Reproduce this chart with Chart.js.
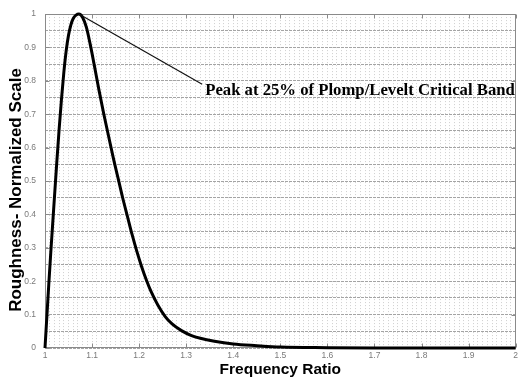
<!DOCTYPE html>
<html>
<head>
<meta charset="utf-8">
<script src="https://cdn.jsdelivr.net/npm/chart.js@4/dist/chart.umd.min.js"></script>
<style>
  html, body { margin: 0; padding: 0; background: #ffffff; }
  #wrap { width: 521px; height: 383px; }
</style>
</head>
<body>
<div id="wrap"><canvas id="c" width="521" height="383"></canvas></div>
<script>
// Roughness curve: frequency ratio vs. normalized roughness
const ratio = [1.000, 1.004, 1.008, 1.012, 1.016, 1.020, 1.025, 1.030, 1.035, 1.040,
               1.045, 1.050, 1.055, 1.060, 1.066, 1.072, 1.080, 1.088, 1.096, 1.105,
               1.115, 1.125, 1.135, 1.145, 1.155, 1.165, 1.175, 1.185, 1.195, 1.205,
               1.215, 1.225, 1.240, 1.255, 1.270, 1.290, 1.310, 1.330, 1.360, 1.400,
               1.450, 1.500, 1.600, 1.700, 2.000];
const roughness = [0.000, 0.095, 0.190, 0.280, 0.365, 0.450, 0.555, 0.655, 0.745, 0.825,
                   0.890, 0.937, 0.968, 0.987, 0.997, 1.000, 0.990, 0.960, 0.910, 0.845,
                   0.770, 0.700, 0.635, 0.570, 0.510, 0.450, 0.395, 0.340, 0.290, 0.245,
                   0.205, 0.170, 0.128, 0.095, 0.072, 0.052, 0.038, 0.029, 0.020, 0.012,
                   0.007, 0.003, 0.001, 0.000, 0.000];

const xTickLabels = ['1', '1.1', '1.2', '1.3', '1.4', '1.5', '1.6', '1.7', '1.8', '1.9', '2'];
const yTickLabels = ['0', '0.1', '0.2', '0.3', '0.4', '0.5', '0.6', '0.7', '0.8', '0.9', '1'];

const xTitle = 'Frequency Ratio';
const yTitle = 'Roughness- Normalized Scale';

// Callout from the peak of the curve
const peakPoint = { x: 1.072, y: 1.0 };
const calloutEnd = { x: 1.334, y: 0.79 };
const calloutText = 'Peak at 25% of Plomp/Levelt Critical Band';

const AXIS_GREY = '#8a8a8a';
const SANS = '"Liberation Sans", Arial, Helvetica, sans-serif';
const SERIF = '"Liberation Serif", "Times New Roman", Times, serif';

// Frame around the plot plus inward tick marks at the labelled positions
const frameTicks = {
  id: 'frameTicks',
  beforeDatasetsDraw(chart) {
    const { ctx, chartArea: a, scales: { x, y } } = chart;
    const L = Math.round(a.left) + 0.5, R = Math.round(a.right) - 0.5;
    const T = Math.round(a.top) + 0.5, B = Math.round(a.bottom) - 0.5;
    ctx.save();
    ctx.strokeStyle = AXIS_GREY;
    ctx.lineWidth = 1;
    ctx.setLineDash([]);
    ctx.strokeRect(L, T, R - L, B - T);
    ctx.beginPath();
    xTickLabels.forEach((lab) => {
      const px = Math.round(x.getPixelForValue(parseFloat(lab))) + 0.5;
      ctx.moveTo(px, B); ctx.lineTo(px, B - 4);
      ctx.moveTo(px, T); ctx.lineTo(px, T + 4);
    });
    yTickLabels.forEach((lab) => {
      const py = Math.round(y.getPixelForValue(parseFloat(lab))) + 0.5;
      ctx.moveTo(L, py); ctx.lineTo(L + 4, py);
      ctx.moveTo(R, py); ctx.lineTo(R - 4, py);
    });
    ctx.stroke();
    ctx.restore();
  }
};

// Vertical axis title and the peak callout
const labels = {
  id: 'labels',
  afterDatasetsDraw(chart) {
    const { ctx, scales: { x, y } } = chart;
    ctx.save();
    ctx.translate(16, 190);
    ctx.rotate(-Math.PI / 2);
    ctx.fillStyle = '#000';
    ctx.font = 'bold 17px ' + SANS;
    ctx.textAlign = 'center';
    ctx.textBaseline = 'middle';
    ctx.fillText(yTitle, 0, 0);
    ctx.restore();

    const x0 = x.getPixelForValue(peakPoint.x), y0 = y.getPixelForValue(peakPoint.y);
    const x1 = x.getPixelForValue(calloutEnd.x), y1 = y.getPixelForValue(calloutEnd.y);
    ctx.save();
    ctx.strokeStyle = '#111';
    ctx.lineWidth = 1.2;
    ctx.beginPath();
    ctx.moveTo(x0, y0);
    ctx.lineTo(x1, y1);
    ctx.stroke();
    ctx.fillStyle = '#000';
    ctx.font = 'bold 16.7px ' + SERIF;
    ctx.textAlign = 'left';
    ctx.textBaseline = 'alphabetic';
    ctx.fillText(calloutText, x1 + 3, y1 + 11);
    ctx.restore();
  }
};

new Chart(document.getElementById('c'), {
  type: 'line',
  data: {
    datasets: [{
      data: ratio.map((r, i) => ({ x: r, y: roughness[i] })),
      borderColor: '#000000',
      borderWidth: 3,
      pointRadius: 0,
      fill: false,
      cubicInterpolationMode: 'monotone',
      clip: 4
    }]
  },
  options: {
    responsive: false,
    animation: false,
    devicePixelRatio: 1,
    layout: { padding: { top: 8, right: 2, left: 0, bottom: 0 } },
    plugins: { legend: { display: false }, tooltip: { enabled: false } },
    scales: {
      x: {
        type: 'linear',
        min: 1,
        max: 2,
        afterBuildTicks: (s) => {
          s.ticks = Array.from({ length: 101 }, (_, i) => ({ value: 1 + i / 100 }));
        },
        afterFit: (s) => { s.height = 35; },
        ticks: {
          autoSkip: false,
          maxRotation: 0,
          padding: 3,
          color: '#7a7a7a',
          font: { family: SANS, size: 8.5 },
          callback: (v, i) => (i % 10 === 0 ? xTickLabels[i / 10] : '')
        },
        grid: { color: '#cfcfcf', lineWidth: 1, drawTicks: false },
        border: { display: false, dash: [1, 2] },
        title: {
          display: true,
          text: xTitle,
          color: '#000',
          font: { family: SANS, size: 15.5, weight: 'bold' },
          padding: { top: 0, bottom: 4 }
        }
      },
      y: {
        type: 'linear',
        min: 0,
        max: 1,
        afterBuildTicks: (s) => {
          s.ticks = Array.from({ length: 21 }, (_, i) => ({ value: i / 20 }));
        },
        afterFit: (s) => { s.width = 45; },
        ticks: {
          autoSkip: false,
          padding: 9,
          color: '#7a7a7a',
          font: { family: SANS, size: 8.5 },
          callback: (v, i) => (i % 2 === 0 ? yTickLabels[i / 2] : '')
        },
        grid: { color: '#a4a4a4', lineWidth: 1, drawTicks: false },
        border: { display: false, dash: [3, 1] },
        title: { display: false }
      }
    }
  },
  plugins: [frameTicks, labels]
});
</script>
</body>
</html>
